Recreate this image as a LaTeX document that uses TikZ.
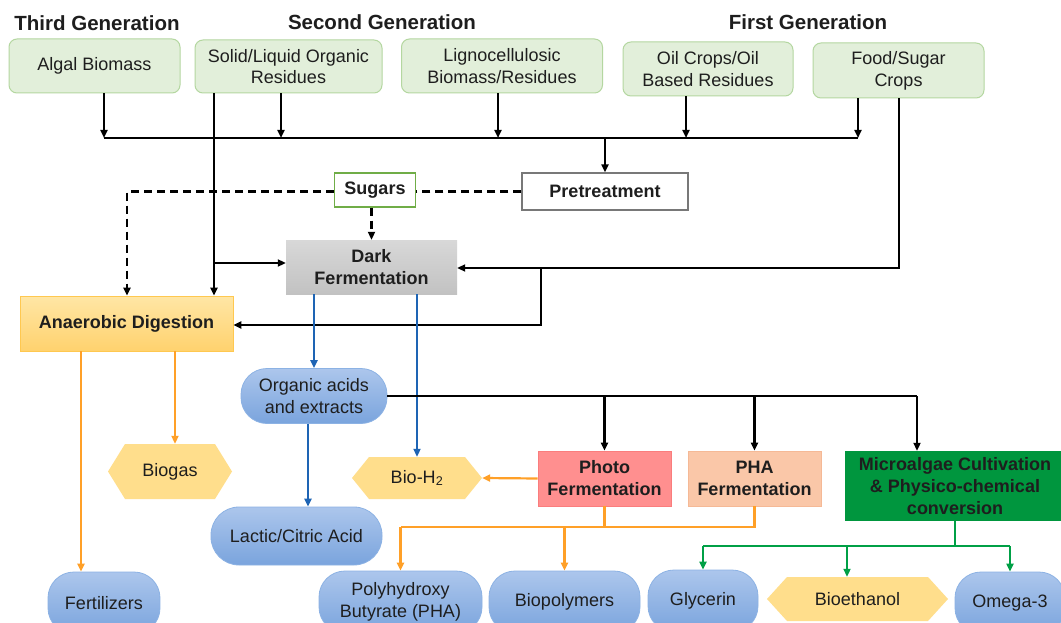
\documentclass[tikz,border=0pt]{standalone}
\usepackage{fontspec}
\setmainfont{Liberation Sans}
\usetikzlibrary{arrows.meta,calc}
\definecolor{gfill}{RGB}{226,239,218}
\definecolor{gborder}{RGB}{180,215,160}
\definecolor{sugb}{RGB}{112,173,71}
\definecolor{preb}{RGB}{120,120,120}
\definecolor{dftop}{RGB}{216,216,216}
\definecolor{dfbot}{RGB}{194,194,194}
\definecolor{adtop}{RGB}{255,230,165}
\definecolor{adbot}{RGB}{255,210,110}
\definecolor{adb}{RGB}{255,200,80}
\definecolor{hexc}{RGB}{255,222,140}
\definecolor{btop}{RGB}{172,198,236}
\definecolor{bbot}{RGB}{122,164,221}
\definecolor{bb}{RGB}{140,178,228}
\definecolor{photoc}{RGB}{255,143,143}
\definecolor{photob}{RGB}{250,125,125}
\definecolor{phac}{RGB}{250,199,168}
\definecolor{phab}{RGB}{245,185,150}
\definecolor{microc}{RGB}{0,150,62}
\definecolor{oarrc}{RGB}{255,160,40}
\definecolor{barrc}{RGB}{30,100,180}
\definecolor{garrc}{RGB}{0,160,70}
\definecolor{txt}{RGB}{30,30,30}
\newcommand\fnorm{\fontsize{18}{21.8}\selectfont}
\newcommand\fbold{\fontsize{18}{22}\selectfont\bfseries}
\newcommand\ftitle{\fontsize{20.5}{24}\selectfont\bfseries}
\begin{document}
\begin{tikzpicture}[x=1pt,y=-1pt,
  every node/.style={text=txt, inner sep=0pt, align=center},
  title/.style={font=\ftitle, anchor=base},
  gbox/.style={draw=gborder, fill=gfill, rounded corners=8pt, line width=1pt, font=\fnorm},
  pbox/.style={draw=#1, fill=white, line width=1.3pt, font=\fbold},
  pill/.style={rectangle, rounded corners=26pt, top color=btop, bottom color=bbot, draw=bb, line width=0.8pt, font=\fnorm},
  hexa/.style={font=\fnorm, path picture={\fill[hexc] (path picture bounding box.west) -- ([xshift=#1]path picture bounding box.north west) -- ([xshift=-#1]path picture bounding box.north east) -- (path picture bounding box.east) -- ([xshift=-#1]path picture bounding box.south east) -- ([xshift=#1]path picture bounding box.south west) -- cycle;}},
  tip/.style={-{Triangle[length=8pt,width=7pt]}},
  ln/.style={line width=2.2pt, black},
  arr/.style={ln, tip},
  darr/.style={arr, dash pattern=on 8pt off 5pt},
  dln/.style={ln, dash pattern=on 8pt off 5pt},
  barr/.style={line width=2.2pt, barrc, tip},
  oln/.style={line width=2.2pt, oarrc},
  oarr/.style={oln, tip},
  gln/.style={line width=2.2pt, garrc},
  garr/.style={gln, tip},
]
\useasboundingbox (0,0) rectangle (1061,623);
\clip (0,0) rectangle (1061,623);
\fill[white] (0,0) rectangle (1061,623);

% titles
\node[title] (t3) at (97,31) {Third Generation};
\node[title] (t2) at (382,30) {Second Generation};
\node[title] (t1) at (808,30) {First Generation};

% feedstocks
\node[gbox, minimum width=171pt, minimum height=54pt] (algal) at (94.5,66) {Algal Biomass};
\node[gbox, minimum width=187pt, minimum height=53pt] (solid) at (288.5,66.5) {Solid/Liquid Organic\\Residues};
\node[gbox, minimum width=201pt, minimum height=54pt] (ligno) at (502,66) {Lignocellulosic\\Biomass/Residues};
\node[gbox, minimum width=170pt, minimum height=54pt] (oil) at (708,69) {Oil Crops/Oil\\Based Residues};
\node[gbox, minimum width=171pt, minimum height=55pt] (food) at (898.5,70.5) {Food/Sugar\\Crops};

% process boxes
\node[pbox=preb, minimum width=166pt, minimum height=37pt] (pre) at (605,191.5) {Pretreatment};
\node[pbox=sugb, minimum width=81pt, minimum height=34pt] (sugars) at (375,190) {Sugars};
\node[top color=dftop, bottom color=dfbot, minimum width=171pt, minimum height=54pt, font=\fbold] (df) at (371.5,267) {Dark\\Fermentation};
\node[top color=adtop, bottom color=adbot, draw=adb, line width=0.8pt, minimum width=213pt, minimum height=55pt, font=\fbold] (ad) at (126.5,323.5) {Anaerobic Digestion};

% intermediate products
\node[pill, minimum width=146pt, minimum height=55pt] (org) at (314,396) {Organic acids\\and extracts};
\node[pill, rounded corners=28pt, minimum width=171pt, minimum height=58pt] (lac) at (296.5,536) {Lactic/Citric Acid};
\node[hexa=17pt, minimum width=124pt, minimum height=55pt] (biogas) at (170,471.5) {Biogas};
\node[hexa=17pt, minimum width=130pt, minimum height=42pt] (bioh) at (417,478) {Bio-H\textsubscript{2}};

% fermentation boxes
\node[fill=photoc, draw=photob, line width=0.8pt, minimum width=133pt, minimum height=55pt, font=\fbold] (photo) at (604.5,478.5) {Photo\\Fermentation};
\node[fill=phac, draw=phab, line width=0.8pt, minimum width=133pt, minimum height=55pt, font=\fbold] (pha) at (754.5,478.5) {PHA\\Fermentation};
\node[fill=microc, minimum width=220pt, minimum height=70pt, font=\fbold] (micro) at (955,486) {Microalgae Cultivation\\\& Physico-chemical\\conversion};

% final products
\node[pill, minimum width=112pt, minimum height=62pt] (fert) at (104,603) {Fertilizers};
\node[pill, minimum width=163pt, minimum height=62pt] (phab) at (400.5,602) {Polyhydroxy\\Butyrate (PHA)};
\node[pill, minimum width=151pt, minimum height=62pt] (biop) at (564.5,602) {Biopolymers};
\node[pill, minimum width=110pt, minimum height=62pt] (glyc) at (703,601) {Glycerin};
\node[hexa=20pt, minimum width=181pt, minimum height=44pt] (bioeth) at (857.5,599) {Bioethanol};
\node[pill, minimum width=110pt, minimum height=62pt] (omega) at (1010,603) {Omega-3};

% bus from feedstocks to pretreatment
\coordinate (b1) at (104,138);
\coordinate (b2) at (281,138);
\coordinate (b3) at (498,138);
\coordinate (b4) at (605,138);
\coordinate (b5) at (686,138);
\coordinate (b6) at (858,138);
\draw[ln] (b1) -- (b6);
\draw[arr] (algal.south -| b1) -- (b1);
\draw[arr] (solid.south -| b2) -- (b2);
\draw[arr] (ligno.south -| b3) -- (b3);
\draw[arr] (oil.south -| b5) -- (b5);
\draw[arr] (food.south -| b6) -- (b6);
\draw[arr] (b4) -- (pre.north);

% solid residues direct lines
\coordinate (s1) at (214,263);
\draw[arr] (solid.south -| s1) -- (ad.north -| s1);
\draw[arr] (s1) -- (df.west |- s1);

% food/sugar direct lines
\coordinate (f1) at (899,268);
\coordinate (f2) at (541,268);
\coordinate (f3) at (541,325);
\draw[arr] (food.south -| f1) -- (f1) -- (df.east |- f1);
\draw[arr] (f2) -- (f3) -- (ad.east |- f3);

% dashed sugar lines
\coordinate (d1) at (127,191.5);
\draw[dln] (pre.west) -- (pre.west -| sugars.east);
\draw[darr] (sugars.west |- d1) -- (d1) -- (ad.north -| d1);
\draw[darr] (sugars.south -| df.north) -- (df.north);

% blue arrows
\coordinate (lx) at (308,500);
\draw[barr] (df.south -| org.north) -- (org.north);
\draw[barr] (df.south -| bioh.north) -- (bioh.north);
\draw[barr] (org.south -| lx) -- (lac.north -| lx);

% organic acids to fermentations
\coordinate (r3) at (917,396);
\draw[ln] (org.east) -- (org.east -| r3);
\draw[arr] (org.east -| photo.north) -- (photo.north);
\draw[arr] (org.east -| pha.north) -- (pha.north);
\draw[arr] (org.east -| r3) -- (micro.north -| r3);

% orange arrows
\coordinate (a1) at (81,400);
\coordinate (a2) at (175,400);
\draw[oarr] (ad.south -| a1) -- (fert.north -| a1);
\draw[oarr] (ad.south -| a2) -- (biogas.north -| a2);
\draw[oarr] (photo.west) -- (bioh.east);
\coordinate (p0) at (400.5,527);
\coordinate (p2) at (564.5,527);
\draw[oln] (photo.south) -- (photo.south |- p0);
\draw[oln] (pha.south) -- (pha.south |- p0) -- (p0);
\draw[oarr] (p0) -- (phab.north);
\draw[oarr] (p2) -- (biop.north);

% green arrows
\coordinate (g0) at (955,546);
\coordinate (g2) at (847,546);
\draw[gln] (micro.south) -- (g0);
\draw[gln] (glyc.north |- g0) -- (omega.north |- g0);
\draw[garr] (glyc.north |- g0) -- (glyc.north);
\draw[garr] (g2) -- (bioeth.north -| g2);
\draw[garr] (omega.north |- g0) -- (omega.north);
\end{tikzpicture}
\end{document}
